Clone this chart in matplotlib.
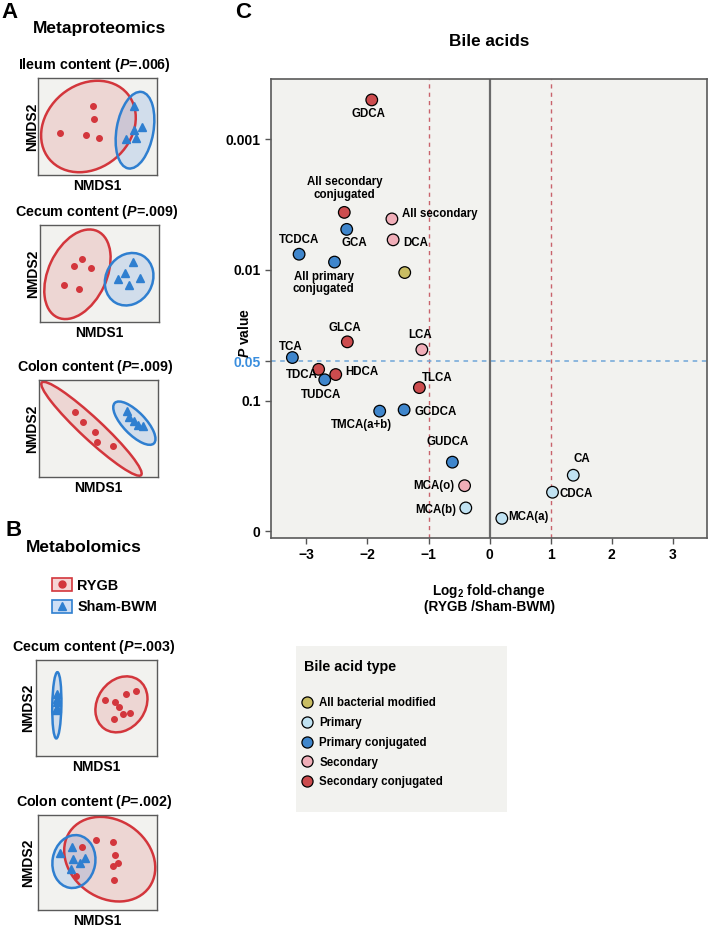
import numpy as np
import matplotlib
matplotlib.use('Agg')
import matplotlib.pyplot as plt
from matplotlib.patches import Ellipse, Patch
from matplotlib.lines import Line2D

plt.rcParams['font.family'] = ['Liberation Sans', 'DejaVu Sans']
plt.rcParams['font.weight'] = 'bold'
plt.rcParams['mathtext.fontset'] = 'custom'
plt.rcParams['mathtext.it'] = 'Liberation Sans:italic:bold'
plt.rcParams['mathtext.rm'] = 'Liberation Sans:bold'
plt.rcParams['mathtext.bf'] = 'Liberation Sans:bold'

# ---- volcano data (C) : log2 fold change and -log10(P) ----
bile_names = ['GDCA', 'All secondary\nconjugated', 'All secondary', 'DCA', 'GCA', 'TCDCA',
              'All primary\nconjugated', 'All bacterial modified', 'GLCA', 'LCA', 'TCA',
              'TDCA', 'TUDCA', 'HDCA', 'TLCA', 'TMCA(a+b)', 'GCDCA', 'GUDCA',
              'MCA(o)', 'MCA(b)', 'MCA(a)', 'CA', 'CDCA']
log2_fc = [-1.93, -2.38, -1.60, -1.58, -2.34, -3.12, -2.54, -1.39, -2.33, -1.11, -3.23,
           -2.80, -2.70, -2.52, -1.15, -1.80, -1.40, -0.61, -0.41, -0.39, 0.20, 1.37, 1.03]
neglog10_p = [3.30, 2.44, 2.39, 2.23, 2.31, 2.12, 2.06, 1.98, 1.45, 1.39, 1.33,
              1.24, 1.16, 1.20, 1.10, 0.92, 0.93, 0.53, 0.35, 0.18, 0.10, 0.43, 0.30]
bile_type = ['Secondary conjugated', 'Secondary conjugated', 'Secondary', 'Secondary',
             'Primary conjugated', 'Primary conjugated', 'Primary conjugated',
             'All bacterial modified', 'Secondary conjugated', 'Secondary',
             'Primary conjugated', 'Secondary conjugated', 'Primary conjugated',
             'Secondary conjugated', 'Secondary conjugated', 'Primary conjugated',
             'Primary conjugated', 'Primary conjugated', 'Secondary', 'Primary',
             'Primary', 'Primary', 'Primary']
type_order = ['All bacterial modified', 'Primary', 'Primary conjugated',
              'Secondary', 'Secondary conjugated']
type_colors = {'All bacterial modified': '#c9bd63', 'Primary': '#c0e2f2',
               'Primary conjugated': '#3f86cc', 'Secondary': '#f0aeb8',
               'Secondary conjugated': '#cc4c4e'}
y_tick_vals = [0, 1, -np.log10(0.05), 2, 3]
y_tick_labels = ['0', '0.1', '0.05', '0.01', '0.001']

# label placement (pixel offsets, ha) - styling only
label_style = {
    'GDCA': (-3, 14, 'center'), 'All secondary\nconjugated': (0, -24, 'center'),
    'All secondary': (10, -5, 'left'), 'DCA': (10, 3, 'left'), 'GCA': (8, 14, 'center'),
    'TCDCA': (0, -14, 'center'), 'All primary\nconjugated': (-11, 21, 'center'),
    'GLCA': (-3, -14, 'center'), 'LCA': (-2, -15, 'center'), 'TCA': (-2, -11, 'center'),
    'TDCA': (-1, 6, 'right'), 'HDCA': (10, -3, 'left'), 'TUDCA': (-4, 15, 'center'),
    'TLCA': (18, -10, 'center'), 'TMCA(a+b)': (-18, 14, 'center'),
    'GCDCA': (10, 2, 'left'), 'GUDCA': (-5, -20, 'center'), 'MCA(o)': (-10, 0, 'right'),
    'MCA(b)': (-10, 2, 'right'), 'MCA(a)': (6, -1, 'left'), 'CA': (9, -16, 'center'),
    'CDCA': (7, 2, 'left')}

# ---- NMDS ordination panels (units: fraction of panel height) ----
prot_ileum_rygb = [(0.569, 0.714), (0.579, 0.576), (0.224, 0.431), (0.490, 0.410), (0.628, 0.386)]
prot_ileum_sham = [(0.990, 0.707), (0.990, 0.466), (1.072, 0.493), (0.910, 0.376), (1.007, 0.386)]
prot_ileum_ell = [(0.52, 0.50, 1.05, 0.86, 40), (1.00, 0.462, 0.80, 0.38, 80)]

prot_cecum_rygb = [(0.434, 0.651), (0.353, 0.576), (0.529, 0.556), (0.247, 0.380), (0.397, 0.339)]
prot_cecum_sham = [(0.963, 0.617), (0.881, 0.502), (0.807, 0.441), (1.031, 0.454), (0.915, 0.386)]
prot_cecum_ell = [(0.386, 0.492, 0.98, 0.60, 65), (0.919, 0.441, 0.56, 0.48, 60)]

prot_colon_rygb = [(0.366, 0.675), (0.452, 0.568), (0.582, 0.462), (0.596, 0.356), (0.760, 0.318)]
prot_colon_sham = [(0.908, 0.682), (0.925, 0.616), (0.983, 0.582), (1.017, 0.538), (1.075, 0.521)]
prot_colon_ell = [(0.541, 0.497, 1.40, 0.22, -43), (0.983, 0.555, 0.58, 0.23, -46)]

metab_cecum_rygb = [(0.717, 0.579), (0.828, 0.562), (0.869, 0.510), (0.938, 0.648),
                    (1.041, 0.679), (0.810, 0.383), (0.907, 0.438), (0.976, 0.448)]
metab_cecum_sham = [(0.214, 0.641), (0.217, 0.597), (0.207, 0.476), (0.221, 0.503), (0.214, 0.562)]
metab_cecum_ell = [(0.890, 0.538, 0.62, 0.50, 55), (0.217, 0.528, 0.69, 0.095, 89)]

metab_colon_rygb = [(0.465, 0.664), (0.615, 0.734), (0.787, 0.717), (0.815, 0.580),
                    (0.839, 0.493), (0.787, 0.465), (0.797, 0.315), (0.395, 0.360)]
metab_colon_sham = [(0.231, 0.605), (0.360, 0.664), (0.371, 0.535), (0.437, 0.493),
                    (0.490, 0.552), (0.343, 0.430)]
metab_colon_ell = [(0.755, 0.535, 1.02, 0.82, -35), (0.378, 0.510, 0.56, 0.45, 80)]

W, H = 709, 930
BG = '#f2f2ef'
RED, BLUE = '#d3363c', '#2f7fd0'

fig = plt.figure(figsize=(W / 100, H / 100), dpi=100)


def px_axes(x0, y0, x1, y1):
    return fig.add_axes([x0 / W, 1 - y1 / H, (x1 - x0) / W, (y1 - y0) / H])


def ftext(x, y, s, **kw):
    kw.setdefault('ha', 'center')
    kw.setdefault('va', 'center')
    fig.text(x / W, 1 - y / H, s, **kw)


# ---- left column ----
ftext(1, 13, 'A', fontsize=16, ha='left')
ftext(100, 28, 'Metaproteomics', fontsize=12.5)
ftext(14, 530, 'B', fontsize=16)
ftext(84, 548, 'Metabolomics', fontsize=12.5)

panels = [
    ('Ileum content ($P$=.006)', (38, 78, 157, 175), prot_ileum_rygb, prot_ileum_sham, prot_ileum_ell, 32),
    ('Cecum content ($P$=.009)', (40, 225, 159, 322), prot_cecum_rygb, prot_cecum_sham, prot_cecum_ell, 33),
    ('Colon content ($P$=.009)', (39, 380, 158, 477), prot_colon_rygb, prot_colon_sham, prot_colon_ell, 32),
    ('Cecum content ($P$=.003)', (36, 660, 157, 756), metab_cecum_rygb, metab_cecum_sham, metab_cecum_ell, 28),
    ('Colon content ($P$=.002)', (38, 815, 157, 910), metab_colon_rygb, metab_colon_sham, metab_colon_ell, 28),
]

for title, box, rygb, sham, ells, ylab_x in panels:
    x0, y0, x1, y1 = box
    pax = px_axes(*box)
    pax.set_facecolor(BG)
    pax.set_xlim(0, (x1 - x0) / (y1 - y0))
    pax.set_ylim(0, 1)
    pax.set_xticks([])
    pax.set_yticks([])
    for s in pax.spines.values():
        s.set_color('#5a5a5a')
        s.set_linewidth(1.0)
    for (cx, cy, w, h, a), ec, fc in zip(ells, [RED, BLUE],
                                         [(0.85, 0.35, 0.35, 0.18), (0.25, 0.5, 0.85, 0.18)]):
        pax.add_patch(Ellipse((cx, cy), w, h, angle=a, facecolor=fc, edgecolor='none', zorder=1))
        pax.add_patch(Ellipse((cx, cy), w, h, angle=a, facecolor='none', edgecolor=ec, lw=1.8, zorder=2))
    rx, ry = zip(*rygb)
    sx, sy = zip(*sham)
    pax.plot(rx, ry, 'o', color=RED, ms=4, ls='', zorder=3)
    pax.plot(sx, sy, '^', color=BLUE, ms=5.5, ls='', zorder=3)
    ftext((x0 + x1) / 2 - 3, y0 - 13, title, fontsize=10.3)
    ftext((x0 + x1) / 2, y1 + 11, 'NMDS1', fontsize=10)
    ftext(ylab_x, (y0 + y1) / 2, 'NMDS2', fontsize=10, rotation=90)

grp_handles = [(Patch(facecolor=(0.85, 0.35, 0.35, 0.25), edgecolor=RED, lw=1.2),
                Line2D([], [], marker='o', color=RED, ls='', ms=5)),
               (Patch(facecolor=(0.25, 0.5, 0.85, 0.25), edgecolor=BLUE, lw=1.2),
                Line2D([], [], marker='^', color=BLUE, ls='', ms=6))]
fig.legend(grp_handles, ['RYGB', 'Sham-BWM'], loc='upper left',
           bbox_to_anchor=(52 / W, 1 - 578 / H), frameon=False,
           handlelength=1.4, handleheight=1.05, handletextpad=0.35,
           labelspacing=0.5, borderpad=0, borderaxespad=0,
           prop={'weight': 'bold', 'size': 10.4})

# ---- C: volcano ----
ftext(243, 13, 'C', fontsize=16)
ax = px_axes(271, 79, 707, 538)
ax.set_facecolor(BG)
ax.set_xlim(-3.58, 3.56)
ax.set_ylim(-0.05, 3.46)
ax.set_title('Bile acids', fontsize=12.3, fontweight='bold', pad=24)

ax.axvline(0, color='#6b6b6b', lw=1.6, zorder=1)
for xv in (-1, 1):
    ax.axvline(xv, color='#c9636b', lw=1.0, ls=(0, (3, 3)), zorder=1)
ax.axhline(-np.log10(0.05), color='#6fa6d8', lw=1.1, ls=(0, (3, 3)), zorder=1)

ax.scatter(log2_fc, neglog10_p, s=70, c=[type_colors[t] for t in bile_type],
           edgecolors='black', linewidths=0.9, zorder=3)
for name, xv, yv in zip(bile_names, log2_fc, neglog10_p):
    if name not in label_style:
        continue
    dx, dy, ha = label_style[name]
    ax.annotate(name, (xv, yv), xytext=(dx, -dy), textcoords='offset pixels',
                ha=ha, va='center', fontsize=8.3, fontweight='bold',
                linespacing=1.05, zorder=4)

ax.set_xticks([-3, -2, -1, 0, 1, 2, 3])
ax.set_yticks(y_tick_vals)
ax.set_yticklabels(y_tick_labels)
ax.get_yticklabels()[2].set_color('#3a8ede')
ax.tick_params(labelsize=10, length=4, color='#555555', width=1)
for lab in ax.get_xticklabels() + ax.get_yticklabels():
    lab.set_fontweight('bold')
for s in ax.spines.values():
    s.set_color('#5a5a5a')
    s.set_linewidth(1.2)
ftext(244, 333, '$P$ value', fontsize=10, rotation=90)
ftext(489, 598, 'Log$_2$ fold-change\n(RYGB /Sham-BWM)', fontsize=9.8, linespacing=1.0)

# legend box for bile acid type
lax = px_axes(296, 646, 507, 812)
lax.set_facecolor(BG)
lax.set_xticks([])
lax.set_yticks([])
for s in lax.spines.values():
    s.set_visible(False)
lax.text(8 / 211, 1 - 21 / 166, 'Bile acid type', transform=lax.transAxes,
         fontsize=10.3, fontweight='bold', va='center', ha='left')
type_handles = [Line2D([], [], marker='o', ls='', ms=8, markerfacecolor=type_colors[t],
                       markeredgecolor='black', markeredgewidth=0.9) for t in type_order]
lax.legend(type_handles, type_order, loc='upper left',
           bbox_to_anchor=(5 / 211, 1 - 51 / 166), frameon=False,
           handlelength=1.0, handletextpad=0.6, labelspacing=0.68,
           borderpad=0, borderaxespad=0, prop={'weight': 'bold', 'size': 8.3})

fig.savefig('out.png', dpi=100)
